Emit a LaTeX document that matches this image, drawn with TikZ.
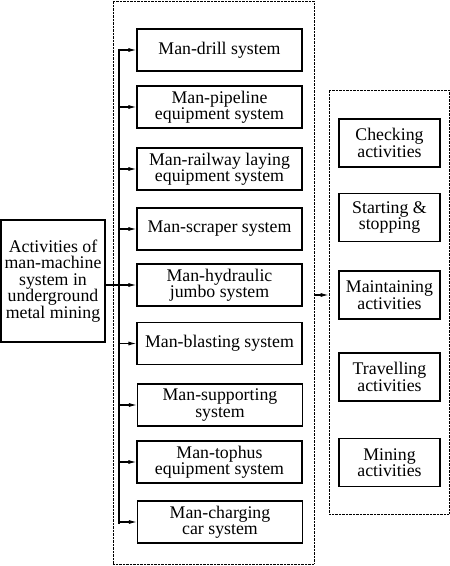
\documentclass[tikz,border=0pt]{standalone}
\usepackage{fontspec}
\setmainfont{Liberation Serif}
\usetikzlibrary{arrows.meta}
\begin{document}
\begin{tikzpicture}[x=1pt,y=-1pt,
  box/.style={draw,line width=1.1pt,align=center,inner sep=0pt,
    font=\fontsize{17.8}{16.5}\selectfont},
  mbox/.style={box,minimum width=165pt,minimum height=42pt},
  rbox/.style={box,minimum width=101pt,minimum height=48pt},
  dotbox/.style={draw,line width=0.7pt,dash pattern=on 0.7pt off 0.7pt,inner sep=0pt},
  arr/.style={line width=1.1pt,-{Latex[length=8pt,width=4pt]}},
  ln/.style={line width=1.1pt}]
\useasboundingbox (0,0) rectangle (450,566);
% containers
\node[dotbox,minimum width=201pt,minimum height=563pt] (C1) at (213.5,282.5) {};
\node[dotbox,minimum width=120pt,minimum height=424pt] (C2) at (389,302) {};
% left box
\node[box,minimum width=104pt,minimum height=122pt] (L) at (53,281)
  {Activities of\\man-machine\\system in\\underground\\metal mining};
% middle boxes
\node[mbox] (m1) at (219.5,50) {Man-drill system};
\node[mbox] (m2) at (219.5,107) {Man-pipeline\\equipment system};
\node[mbox] (m3) at (219.5,169) {Man-railway laying\\equipment system};
\node[mbox] (m4) at (219.5,229) {Man-scraper system};
\node[mbox] (m5) at (219.5,285) {Man-hydraulic\\jumbo system};
\node[mbox] (m6) at (219.5,343.5) {Man-blasting system};
\node[mbox] (m7) at (220,405) {Man-supporting\\system};
\node[mbox] (m8) at (219.5,462) {Man-tophus\\equipment system};
\node[mbox] (m9) at (220,522) {Man-charging\\car system};
% right boxes
\node[rbox] (r1) at (389.5,143) {Checking\\activities};
\node[rbox] (r2) at (389.5,217.5) {Starting \&\\stopping};
\node[rbox] (r3) at (389.5,295) {Maintaining\\activities};
\node[rbox] (r4) at (389.5,377) {Travelling\\activities};
\node[rbox] (r5) at (389.5,462.5) {Mining\\activities};
% bus
\coordinate (bt) at (119,49);
\coordinate (bb) at (119,524);
\draw[ln] (bt) -- (bb);
\foreach \n in {m1,m2,m3,m4,m6,m7,m8,m9}
  \draw[arr] (bt |- \n.west) -- (\n.west);
\draw[arr] (L.east |- m5.west) -- (m5.west);
\draw[arr] (C1.east |- r3.west) -- (C2.west |- r3.west);
\end{tikzpicture}
\end{document}
